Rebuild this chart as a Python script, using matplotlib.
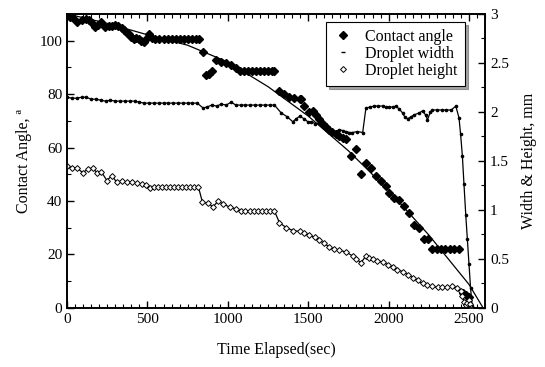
import matplotlib
matplotlib.use("Agg")
import matplotlib.pyplot as plt
from matplotlib.lines import Line2D
from matplotlib.ticker import MultipleLocator

# ---- data ----
angle_t = [0, 20, 40, 62, 93, 115, 135, 155, 176, 195, 213, 236, 258, 279, 300, 320, 340, 352,
           370, 383, 400, 414, 430, 445, 460, 476, 495, 511, 530, 548, 575, 600, 625, 650, 675,
           700, 725, 750, 775, 800, 820, 846, 867, 885, 904, 928, 959, 990, 1021, 1053, 1073,
           1100, 1125, 1150, 1175, 1200, 1225, 1250, 1275, 1290, 1321, 1352, 1380, 1410, 1446,
           1456, 1476, 1507, 1527, 1550, 1570, 1590, 1611, 1630, 1651, 1672, 1693, 1714, 1735,
           1766, 1797, 1828, 1859, 1890, 1921, 1952, 1983, 2004, 2035, 2066, 2097, 2128, 2159,
           2190, 2221, 2248, 2273, 2300, 2327, 2354, 2381, 2408, 2435, 2460, 2480, 2500]
angle_v = [109.5, 109, 108.5, 107, 107.6, 108, 107.6, 106.5, 105, 106, 106.8, 105, 105.5, 105.5,
           106, 105.5, 104.8, 104, 103, 102.6, 101.5, 100.7, 101, 100.7, 100, 99.5, 101, 102.6,
           101, 100.5, 100.5, 100.5, 100.5, 100.5, 100.5, 100.5, 100.5, 100.5, 100.5, 100.5,
           100.5, 95.7, 87.2, 87.6, 88.5, 92.6, 92, 91.6, 91, 89.7, 88.8, 88.8, 88.8, 88.8,
           88.8, 88.8, 88.8, 88.8, 88.8, 88.8, 81.3, 80, 79, 78.5, 78.2, 78.2, 75.7, 73.2, 73.8,
           72, 70.7, 69, 67.6, 66.5, 65.7, 65, 64.4, 63.5, 63.2, 56.9, 59.4, 50, 54.4, 52.5, 49.4,
           47.5, 45.6, 43.1, 41.2, 40.3, 38, 35.6, 31.2, 30, 25.8, 25.8, 22.1, 22.1, 22.1, 22.1,
           22.1, 22.1, 22.1, 5.5, 5, 4.2]

fit_t = [0, 250, 500, 750, 1000, 1250, 1500, 1750, 2000, 2250, 2500, 2583]
fit_v = [110, 106.5, 102.2, 98.3, 92, 82.8, 71.8, 58.8, 44, 27.3, 8.8, 0.5]

width_t = [0, 30, 60, 90, 120, 150, 180, 210, 240, 270, 300, 330, 360, 390, 420, 450, 480, 510,
           540, 570, 600, 630, 660, 690, 720, 750, 780, 810, 846, 870, 900, 930, 960, 990, 1021,
           1050, 1080, 1110, 1140, 1170, 1200, 1230, 1260, 1290, 1332, 1370, 1404, 1425, 1446,
           1476, 1497, 1520, 1545, 1570, 1590, 1611, 1630, 1651, 1672, 1693, 1714, 1735, 1755,
           1775, 1806, 1839, 1859, 1885, 1911, 1937, 1963, 1983, 2004, 2025, 2045, 2066, 2087,
           2100, 2118, 2140, 2159, 2190, 2211, 2230, 2242, 2260, 2273, 2300, 2330, 2360, 2390,
           2418, 2438, 2448, 2459, 2469, 2480, 2490, 2500, 2510, 2520]
width_v = [2.15, 2.14, 2.14, 2.15, 2.15, 2.13, 2.13, 2.12, 2.11, 2.12, 2.11, 2.11, 2.11, 2.11,
           2.11, 2.10, 2.09, 2.09, 2.09, 2.09, 2.09, 2.09, 2.09, 2.09, 2.09, 2.09, 2.09, 2.09,
           2.04, 2.05, 2.07, 2.06, 2.08, 2.07, 2.10, 2.07, 2.07, 2.07, 2.07, 2.07, 2.07, 2.07,
           2.07, 2.07, 1.99, 1.95, 1.90, 1.93, 1.955, 1.93, 1.90, 1.90, 1.88, 1.89, 1.87, 1.84,
           1.81, 1.77, 1.80, 1.82, 1.81, 1.80, 1.79, 1.79, 1.80, 1.79, 2.04, 2.05, 2.06, 2.06,
           2.06, 2.05, 2.05, 2.05, 2.06, 2.03, 1.99, 1.95, 1.93, 1.95, 1.97, 1.99, 2.01, 1.97,
           1.92, 2.00, 2.02, 2.02, 2.02, 2.02, 2.02, 2.06, 1.94, 1.77, 1.55, 1.26, 0.95, 0.70,
           0.45, 0.20, 0.02]

height_t = [0, 31, 62, 97, 130, 159, 186, 213, 248, 279, 310, 341, 372, 403, 434, 465, 490, 517,
            540, 565, 590, 615, 640, 665, 690, 715, 740, 765, 790, 817, 842, 877, 908, 939, 970,
            1011, 1053, 1083, 1110, 1135, 1160, 1185, 1210, 1235, 1260, 1290, 1321, 1363, 1404,
            1446, 1476, 1507, 1540, 1570, 1600, 1632, 1660, 1693, 1735, 1777, 1800, 1828, 1859,
            1880, 1900, 1930, 1963, 1995, 2025, 2055, 2087, 2118, 2149, 2180, 2211, 2240, 2273,
            2305, 2335, 2365, 2397, 2428, 2450, 2459, 2469, 2480, 2490, 2500, 2505, 2510]
height_v = [1.45, 1.43, 1.43, 1.38, 1.415, 1.43, 1.38, 1.39, 1.30, 1.35, 1.28, 1.30, 1.28, 1.29,
            1.27, 1.26, 1.25, 1.22, 1.235, 1.235, 1.235, 1.235, 1.235, 1.235, 1.235, 1.235, 1.235,
            1.235, 1.235, 1.235, 1.08, 1.07, 1.03, 1.09, 1.06, 1.03, 1.01, 0.99, 0.99, 0.99, 0.99,
            0.99, 0.99, 0.99, 0.99, 0.99, 0.87, 0.82, 0.79, 0.78, 0.76, 0.74, 0.72, 0.69, 0.66,
            0.62, 0.60, 0.59, 0.57, 0.53, 0.50, 0.46, 0.53, 0.51, 0.50, 0.48, 0.47, 0.44, 0.42,
            0.39, 0.37, 0.34, 0.31, 0.28, 0.25, 0.23, 0.22, 0.21, 0.21, 0.21, 0.22, 0.20, 0.17,
            0.12, 0.06, 0.03, 0.05, 0.08, 0.04, 0.0]

legend_labels = ["Contact angle", "Droplet width", "Droplet height"]

# ---- figure ----
plt.rcParams['font.family'] = ['Liberation Serif', 'DejaVu Serif']
fig = plt.figure(figsize=(5.45, 3.67), dpi=100)
ax = fig.add_axes([0.123, 0.161, 0.767, 0.801])
ax2 = ax.twinx()

ax.plot(fit_t, fit_v, color='black', lw=0.9, zorder=2)
ax.plot(angle_t, angle_v, linestyle='none', marker='D', ms=3.8, color='black', zorder=3)
ax2.plot(width_t, width_v, color='black', lw=0.9, marker='o', ms=1.6)
ax2.plot(height_t, height_v, color='black', lw=0.9, marker='D', ms=3.0, mfc='white', mew=0.7)

ax.set_xlim(0, 2600)
ax.set_ylim(0, 110)
ax2.set_ylim(0, 3)

ax.xaxis.set_major_locator(MultipleLocator(500))
ax.xaxis.set_minor_locator(MultipleLocator(50))
ax.yaxis.set_major_locator(MultipleLocator(20))
ax.yaxis.set_minor_locator(MultipleLocator(10))
ax2.yaxis.set_major_locator(MultipleLocator(0.5))
ax2.yaxis.set_minor_locator(MultipleLocator(0.25))

ax.tick_params(axis='both', which='both', direction='in', top=True, right=False, labelsize=11)
ax.tick_params(which='major', length=5, width=1)
ax.tick_params(which='minor', length=3, width=0.8)
ax2.tick_params(axis='y', which='both', direction='in', labelsize=11)
ax2.tick_params(which='major', length=5, width=1)
ax2.tick_params(which='minor', length=3, width=0.8)
ax2.set_yticks([0, 0.5, 1, 1.5, 2, 2.5, 3])
ax2.set_yticklabels(['0', '0.5', '1', '1.5', '2', '2.5', '3'])

for a in (ax, ax2):
    for s in a.spines.values():
        s.set_linewidth(1.2)

ax.set_xlabel("Time Elapsed(sec)", fontsize=11.5, labelpad=12)
ax.set_ylabel("Contact Angle, \u00aa", fontsize=11.5, labelpad=5)
ax2.set_ylabel("Width & Height, mm", fontsize=11.5, labelpad=9)

handles = [
    Line2D([], [], linestyle='none', marker='D', ms=3.8, color='black'),
    Line2D([], [], linestyle='none', marker='_', ms=3.5, color='black'),
    Line2D([], [], linestyle='none', marker='D', ms=3.0, color='black', mfc='white', mew=0.7),
]
leg = ax.legend(handles, legend_labels, loc='upper right', bbox_to_anchor=(0.952, 0.973),
                borderaxespad=0, fontsize=11.5, frameon=True, fancybox=False, shadow=True,
                handlelength=1.2, handletextpad=0.8, borderpad=0.45, labelspacing=0.05)
leg.get_frame().set_edgecolor('black')
leg.get_frame().set_linewidth(0.8)

fig.savefig("out.png", dpi=100)
